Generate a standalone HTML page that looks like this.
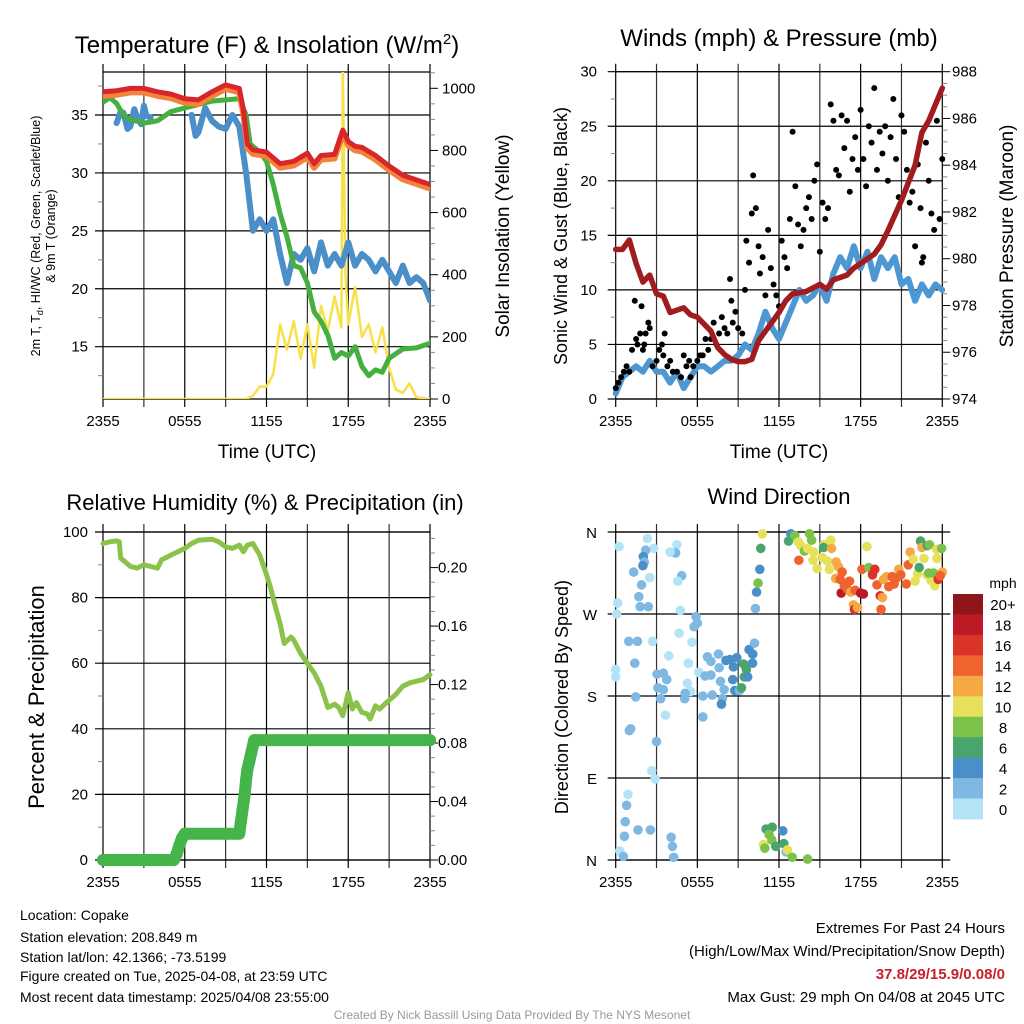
<!DOCTYPE html>
<html><head><meta charset="utf-8"><style>
html,body{margin:0;padding:0;background:#fff}
svg{display:block;font-family:"Liberation Sans",sans-serif}
</style></head><body>
<svg id="c" width="1024" height="1024" viewBox="0 0 1024 1024" xmlns="http://www.w3.org/2000/svg">
<g id="g"></g>
<g font-size="14" fill="#000">
<text x="20" y="920">Location: Copake</text>
<text x="20" y="942">Station elevation: 208.849 m</text>
<text x="20" y="962">Station lat/lon: 42.1366; -73.5199</text>
<text x="20" y="981">Figure created on Tue, 2025-04-08, at 23:59 UTC</text>
<text x="20" y="1002">Most recent data timestamp: 2025/04/08 23:55:00</text>
</g>
<g font-size="15" text-anchor="end">
<text x="1005" y="933">Extremes For Past 24 Hours</text>
<text x="1005" y="956">(High/Low/Max Wind/Precipitation/Snow Depth)</text>
<text x="1005" y="979" fill="#c8202a" font-weight="bold">37.8/29/15.9/0.08/0</text>
<text x="1005" y="1002">Max Gust: 29 mph On 04/08 at 2045 UTC</text>
</g>
<text x="512" y="1019" font-size="12" fill="#999" text-anchor="middle">Created By Nick Bassill Using Data Provided By The NYS Mesonet</text>
</svg>
<script>
// ---------- data (time in hours after 2355 UTC) ----------
const xTickLabels = ["2355","0555","1155","1755","2355"];
const tempT = [0,1,2,3,4,5,6,7,8,9,10,10.3,10.6,11,12,13,14,15,15.5,16,17,17.6,18,18.5,19,20,21,22,23,24];
const tempV = [37,37.1,37.3,37.3,37,36.8,36.4,36.3,37,37.6,37.3,35.5,32.5,32,31.8,30.8,31,31.7,30.8,31.5,31.6,33.7,32.7,32.3,32.2,31.5,30.6,29.8,29.4,29];
const dewT = [0,0.5,1,1.5,2,3,4,5,6,7,8,9,10,10.5,10.8,11.5,12,12.5,13,13.5,14,14.5,15,15.5,16,16.5,17,17.5,18,18.5,19,19.5,20,20.5,21,22,23,24];
const dewV = [36.1,36.5,36,35,34.6,34.3,34.5,35.3,35.6,35.9,36.2,36.3,36.4,35,32.5,31.8,31,29,26.5,24.5,22,21.8,20.5,18,17.2,16,14,14.5,14.2,15,13.3,12.5,13,12.8,14,14.8,14.9,15.3];
const wcT1 = [1,1.3,1.5,1.8,2,2.3,2.5,2.8,3,3.2,3.5];
const wcV1 = [34.3,35.3,35.2,33.8,34,35.5,34.8,34.2,35.8,34.9,34.8];
const wcT2 = [6.5,6.8,7,7.5,8,8.5,9,9.5,10,10.5,10.8,11,11.5,12,12.5,13,13.5,14,14.5,15,15.5,16,16.5,17,17.5,18,18.5,19,19.5,20,20.5,21,21.5,22,22.5,23,23.5,24];
const wcV2 = [35,33.2,33.5,35.6,34.5,34,33.8,35,34,30,27,25,26,25,26,23,20.5,23,22.5,23.5,21.5,24,22,23,22,24,22,23,22.5,21.5,22.5,21.5,20.5,22,20.5,21,20.5,19];
const solT = [0,10.5,11,11.5,12,12.5,13,13.5,14,14.5,15,15.5,16,16.5,17,17.5,17.6,17.8,18,18.5,19,19.5,20,20.5,21,21.5,22,22.5,23,24];
const solV = [0,0,10,40,40,80,240,160,250,130,240,100,300,220,330,230,1060,400,240,360,200,240,150,230,100,30,20,50,5,0];

const windT = [0,0.5,1,1.5,2,2.5,3,3.5,4,4.5,5,5.5,6,6.5,7,7.5,8,8.5,9,9.5,10,10.5,11,11.5,12,12.5,13,13.5,14,14.5,15,15.5,16,16.5,17,17.5,18,18.5,19,19.5,20,20.5,21,21.5,22,22.5,23,23.5,24];
const windV = [0.5,2,2.5,3,2.5,3.5,2.5,2.5,1.5,2.5,1,2,3,3,2.5,3,3.5,3.5,4,5,4.5,6,8,6.5,5.5,7,8.5,10,9,9.5,10.5,9,11.5,13,12,14,12,13.5,11,13,12,13,10.5,11,9,10.5,9.5,10.5,10];
const presT = [0,0.5,1,1.5,2,2.5,3,3.5,4,5,5.5,6,7,7.5,8,8.5,9,9.5,10,10.5,11,11.5,12,12.5,13,14,15,15.5,16,17,17.5,18,19,19.5,20,21,22,22.5,23,24];
const presV = [980.4,980.4,980.8,979.8,979,979.3,978.5,978.4,977.7,977.9,977.6,977.5,976.9,976.2,975.9,975.7,975.6,975.6,975.7,976.5,976.9,977.3,977.7,978.2,978.5,978.6,978.9,978.7,979.1,979.3,979.6,979.8,980.2,980.6,981.2,982.5,984,985.4,985.9,987.3];
const gustT = [0,0.2,0.4,0.6,0.8,1,1.2,1.4,1.5,1.6,1.8,1.9,2,2.1,2.2,2.4,2.5,2.7,3,3.2,3.4,3.5,3.6,3.8,4,4.2,4.5,4.8,5,5.2,5.4,5.5,5.7,6,6.2,6.4,6.6,6.8,7,7.2,7.4,7.6,7.8,8,8.2,8.4,8.5,8.6,8.8,9,9.3,9.5,9.6,9.8,10,10.1,10.3,10.5,10.6,10.8,11,11.2,11.4,11.6,11.8,12,12.2,12.4,12.6,12.8,13,13.2,13.4,13.6,13.8,14,14.2,14.4,14.6,14.8,15,15.2,15.4,15.6,15.8,16,16.2,16.4,16.6,16.8,17,17.2,17.4,17.6,17.8,18,18.2,18.4,18.6,18.8,19,19.2,19.4,19.6,19.8,20,20.2,20.4,20.6,20.8,21,21.2,21.4,21.6,21.8,22,22.2,22.4,22.5,22.6,22.8,23,23.2,23.4,23.6,23.8,24];
const gustV = [1,1.5,2,2.5,3,2.5,4.5,9,5.5,5,6,8.5,4.5,5,6,7,6.5,3,3.5,4.5,5,4,6,3,3.5,2.5,2.5,2,4,3,3.5,2,3,3.5,4,4,5.5,4.5,5.5,7,5,6,7.5,6.5,6,11,9,7,8,6.5,6,10,14.5,12.5,17,20.5,17.5,14,11.5,13,9.5,15.5,12,10.5,9.5,8.5,14.5,13,12,16.5,24.5,19.5,16,14,15.5,17.5,18.5,16.5,20,21.5,13.5,18,16.5,17.5,27,25.5,21,20.5,26,23,25.5,19,22,24,21,26.5,22,19.5,25,23.5,28.5,21,24.5,22.5,25,20,24,27.5,22,18.5,26,24.5,21,18,19,14,21.5,17.5,12.5,13,23.5,20,17,15.5,25.5,16.5,22];

const rhT = [0,0.5,1,1.2,1.3,1.6,2,2.5,3,3.5,4,4.3,5,6,6.5,7,8,8.5,9,9.5,10,10.3,10.6,11,11.5,12,12.3,12.6,13,13.3,13.8,14,14.5,15,15.5,16,16.5,17,17.3,17.6,18,18.3,18.6,19,19.4,19.6,20,20.3,20.8,21.5,22,22.5,23,23.5,24];
const rhV = [96.5,97,97.3,97,92,91,89.5,89,90,89.5,89,91.5,93,95,96.5,97.5,97.8,97,95.5,95,96,94,96,96.5,93,87,83,78,72,66,68,67,63,60,57,53,46.5,47.5,46.5,44,51,46,48,45,44.5,43,47,46,48,50.5,53,54,54.5,55,56.5];
const precT = [0,5.2,5.4,5.6,5.8,6,10,10.1,10.25,10.4,10.5,10.6,10.75,10.9,11.1,24];
const precV = [0,0,0.004,0.01,0.015,0.018,0.018,0.025,0.035,0.045,0.055,0.062,0.068,0.074,0.082,0.082];

const dirT = [0.25,0.15,0.07,0.96,1.6,1.4,0,0,1.47,1.1,1.0,3.0,2.65,2.9,0.9,0.8,0.7,0.64,1.64,2.55,0.3,0.56,2.33,2.8,2.2,2.03,2.1,2.0,1.32,2.5,1.9,1.7,1.8,2.4,2.7,3.04,3.5,3.75,3.1,3.5,3.3,3.65,3.9,4.07,4.17,4.26,4.5,4.4,4.0,4.85,4.56,4.75,4.66,5.6,5.9,6.0,5.76,5.34,5.27,5.5,5.1,5.07,6.1,6.4,6.4,7.1,6.74,7.0,7.55,7.6,7.0,6.57,7.7,7.97,7.84,7.77,8.1,8.4,8.65,8.9,8.6,8.75,9.1,9.4,9.6,9.45,9.24,9.7,9.8,10.07,10.05,10.2,10.27,10.35,10.46,10.59,10.66,10.78,11.05,11.5,11.27,10.86,10.96,11.47,11.76,12.28,12.35,12.52,12.62,12.97,14.1,12.87,12.7,13.16,13.43,13.6,13.46,13.87,14.24,14.4,14.1,14.55,14.5,14.8,15.17,15.3,15.27,15.8,15.86,15.56,15.7,16.2,16.37,16.64,16.17,16.5,16.57,16.8,17.18,17.03,17.27,17.47,17.55,17.77,17.6,18.0,18.2,18.1,18.46,18.6,18.87,19.04,19.2,19.44,19.6,19.68,19.5,19.9,20.07,20.32,20.46,20.6,20.8,20.95,21.35,21.5,21.64,21.86,22.0,22.18,22.3,22.4,22.5,22.65,22.9,23.06,22.87,23.16,23.36,23.45,23.6,23.6,23.7,23.95,24.0,23.85,23.0];
const dirV = [344,282,270,240,240,216,209,201,179,144,142,130,98,89,72,60,42,26,33,33,10,4,353,342,340,333,327,323,316,310,302,289,278,278,240,204,205,198,189,187,177,159,224,25,15,3,346,337,338,312,306,274,249,239,267,260,256,216,194,185,183,177,206,180,157,181,223,218,226,211,203,202,196,187,177,171,219,220,212,222,198,186,186,215,209,201,189,201,231,226,216,238,276,294,304,319,342,358,34,36,28,17,13,22,15,32,18,9,11,3,1,358,350,356,349,345,329,339,358,351,342,338,329,320,332,346,343,351,342,328,319,327,322,316,309,308,293,301,306,297,294,280,275,277,296,293,292,319,344,321,313,319,302,290,288,308,275,311,300,311,303,309,319,313,303,324,338,330,306,314,321,350,343,331,345,346,313,307,315,301,331,341,308,342,316,312,315];
const dirS = [1,1,0,2,2,2,1,1,2,2,2,3,1,0,0,2,2,2,2,2,0,3,0,0,3,4,3,4,2,0,2,2,2,2,0,2,2,2,2,2,2,0,0,2,2,2,0,3,0,2,0,0,0,0,2,2,2,0,0,0,2,2,0,2,2,2,2,2,2,2,3,2,2,2,2,4,4,4,4,4,4,4,3,6,6,6,6,4,4,4,4,3,3,4,8,4,6,10,6,6,8,10,8,8,6,4,6,3,10,8,8,4,6,8,10,10,14,8,8,8,10,10,10,10,10,10,6,10,12,10,10,12,12,14,12,14,18,14,14,14,12,12,16,12,14,18,18,14,10,8,16,16,14,16,12,12,14,12,14,14,14,14,12,14,14,14,12,10,10,10,6,6,12,10,6,8,10,10,8,10,10,10,16,8,12,14,8];
const cbLabels = ["20+","18","16","14","12","10","8","6","4","2","0"];
const cbColors = ["#8e1518","#bb1c24","#db3328","#f0622e","#f6a845","#e6e05a","#7cc24a","#4aa56d","#4a8fc8","#7fb9e3","#b3e3f7"];

// ---------- drawing helpers ----------
const NS="http://www.w3.org/2000/svg";
const G=document.getElementById('g');
function el(tag,attrs,parent){const e=document.createElementNS(NS,tag);for(const k in attrs)e.setAttribute(k,attrs[k]);(parent||G).appendChild(e);return e;}
function txt(x,y,s,size,anchor,parent,rot){const e=el('text',{x:x,y:y,'font-size':size,'text-anchor':anchor||'middle'},parent);if(rot)e.setAttribute('transform','rotate(-90 '+x+' '+y+')');e.textContent=s;return e;}
function line(x1,y1,x2,y2,parent,w,c){return el('line',{x1:x1,y1:y1,x2:x2,y2:y2,stroke:c||'#000','stroke-width':w||1},parent);}
function pathOf(T,V,fx,fy){let d='';for(let i=0;i<T.length;i++){d+=(i?'L':'M')+fx(T[i]).toFixed(1)+' '+fy(V[i]).toFixed(1);}return d;}

function frame(p,parent){
  for(let i=0;i<=8;i++){const x=p.x0+i*(p.x1-p.x0)/8;line(x,p.top-8,x,p.bot+8,parent,1.2,i%2?'#333':'#000');}
  line(p.x0,p.top,p.x1,p.top,parent,1.2);line(p.x0,p.bot,p.x1,p.bot,parent,1.2);
  xTickLabels.forEach((s,i)=>{const x=p.x0+i*(p.x1-p.x0)/4;const t=txt(x,p.bot+27,s,15,'middle',parent);
    });
}

// ---------- Panel 1 ----------
(function(){
const p={x0:103,x1:430,top:72,bot:399};
const g=el('g',{});
const xs=t=>p.x0+t/24*(p.x1-p.x0);
const yT=v=>346.7-(v-15)*(231.7/20);
const yS=w=>399-w*0.3107;
frame(p,g);
[15,20,25,30,35].forEach(v=>{line(p.x0-8,yT(v),p.x1,yT(v),g,1.2);const t=txt(88,yT(v)+5,String(v),15,'end',g);});
for(let v=12.5;v<39;v+=2.5){if(v%5)line(p.x0-5,yT(v),p.x0,yT(v),g,1,'#888');}
for(let w=0;w<=1050;w+=50){line(p.x1,yS(w),p.x1+(w%200?5:8),yS(w),g,1,w%200?'#888':'#000');}
[0,200,400,600,800,1000].forEach(w=>{const t=txt(442,yS(w)+5,String(w),15,'start',g);});
const clip=el('clipPath',{id:'cp1'},g);el('rect',{x:p.x0,y:p.top,width:p.x1-p.x0,height:p.bot-p.top},clip);
const s=el('g',{'clip-path':'url(#cp1)',fill:'none','stroke-linejoin':'round','stroke-linecap':'round'},g);
let e;
e=el('path',{d:pathOf(solT,solV,xs,yS),stroke:'#f7e14a','stroke-width':2.5},s);
e=el('path',{d:pathOf(wcT1,wcV1,xs,yT),stroke:'#4a8fc8','stroke-width':6},s);
e=el('path',{d:pathOf(wcT2,wcV2,xs,yT),stroke:'#4a8fc8','stroke-width':6},s);
e=el('path',{d:pathOf(dewT,dewV,xs,yT),stroke:'#45b03f','stroke-width':5},s);
e=el('path',{d:pathOf(tempT,tempV.map(v=>v-0.35),xs,yT),stroke:'#f5823a','stroke-width':6},s);
e=el('path',{d:pathOf(tempT,tempV,xs,yT),stroke:'#d8262a','stroke-width':5},s);
e=txt(267,53,'',24,'middle',g);e.innerHTML='Temperature (F) &amp; Insolation (W/m<tspan dy="-9" font-size="15">2</tspan><tspan dy="9">)</tspan>';
e=txt(267,458,'Time (UTC)',19,'middle',g);
e=txt(40,236,'',12.5,'middle',g,true);e.innerHTML='2m T, T<tspan dy="3" font-size="9">d</tspan><tspan dy="-3">, HI/WC (Red, Green, Scarlet/Blue)</tspan>';
e=txt(55,236,'& 9m T (Orange)',12.5,'middle',g,true);
e=txt(509,236,'Solar Insolation (Yellow)',19,'middle',g,true);
})();

// ---------- Panel 2 ----------
(function(){
const p={x0:615.7,x1:942.3,top:71.7,bot:399};
const g=el('g',{});
const xs=t=>p.x0+t/24*(p.x1-p.x0);
const yW=v=>399-v*(327.3/30);
const yP=v=>399-(v-974)*(327.3/14);
frame(p,g);
[0,5,10,15,20,25,30].forEach(v=>{line(p.x0-8,yW(v),p.x1,yW(v),g,1.2);const t=txt(597,yW(v)+5,String(v),15,'end',g);});
for(let v=2.5;v<30;v+=5)line(p.x0-5,yW(v),p.x0,yW(v),g,1,'#888');
for(let v=974;v<=988;v+=0.5){line(p.x1,yP(v),p.x1+(v%2?5:8),yP(v),g,1,v%2?'#888':'#000');}
[974,976,978,980,982,984,986,988].forEach(v=>{const t=txt(952,yP(v)+5,String(v),15,'start',g);});
const clip=el('clipPath',{id:'cp2'},g);el('rect',{x:p.x0-3,y:p.top-3,width:p.x1-p.x0+6,height:p.bot-p.top+6},clip);
const s=el('g',{'clip-path':'url(#cp2)',fill:'none','stroke-linejoin':'round','stroke-linecap':'round'},g);
let e=el('path',{d:pathOf(windT,windV,xs,yW),stroke:'#4d97d3','stroke-width':6},s);
for(let i=0;i<gustT.length;i++){const c=el('circle',{cx:xs(gustT[i]),cy:yW(gustV[i]),r:3,fill:'#000'},s);

}
e=el('path',{d:pathOf(presT,presV,xs,yP),stroke:'#a01c1e','stroke-width':5.5},s);
e=txt(779,46,'Winds (mph) & Pressure (mb)',24,'middle',g);
e=txt(779,458,'Time (UTC)',19,'middle',g);
e=txt(567,236,'Sonic Wind & Gust (Blue, Black)',18,'middle',g,true);
e=txt(1013,236,'Station Pressure (Maroon)',19,'middle',g,true);
})();

// ---------- Panel 3 ----------
(function(){
const p={x0:103,x1:430,top:532,bot:860};
const g=el('g',{});
const xs=t=>p.x0+t/24*(p.x1-p.x0);
const yR=v=>860-v*3.28;
const yI=v=>860-v*1462;
frame(p,g);
[0,20,40,60,80,100].forEach(v=>{line(p.x0-8,yR(v),p.x1,yR(v),g,1.2);const t=txt(88,yR(v)+5,String(v),15,'end',g);});
for(let v=10;v<100;v+=20)line(p.x0-5,yR(v),p.x0,yR(v),g,1,'#888');
for(let k=0;k<=22;k++){const v=k*0.01;line(p.x1,yI(v),p.x1+(k%4?5:8),yI(v),g,1,k%4?'#888':'#000');}
["0.00","0.04","0.08","0.12","0.16","0.20"].forEach(s=>{const t=txt(438,yI(parseFloat(s))+5,s,15,'start',g);});
const s=el('g',{fill:'none','stroke-linejoin':'round','stroke-linecap':'round'},g);
let e=el('path',{d:pathOf(rhT,rhV,xs,yR),stroke:'#8bc34a','stroke-width':5},s);
e=el('path',{d:pathOf(precT,precV,xs,yI),stroke:'#45b549','stroke-width':12},s);
for(let i=0;i<precT.length;i++){const c=el('circle',{cx:xs(precT[i]),cy:yI(precV[i]),r:6,fill:'#45b549'},s);

}
e=txt(265,510,'Relative Humidity (%) & Precipitation (in)',22,'middle',g);
e=txt(44,697,'Percent & Precipitation',22,'middle',g,true);
})();

// ---------- Panel 4 ----------
(function(){
const p={x0:615.7,x1:942.3,top:532,bot:860};
const g=el('g',{});
const xs=t=>p.x0+t/24*(p.x1-p.x0);
const yD=v=>860-v*(328/360);
frame(p,g);
[[360,'N'],[270,'W'],[180,'S'],[90,'E'],[0,'N']].forEach(a=>{line(p.x0-8,yD(a[0]),p.x1+8,yD(a[0]),g,1.2);const t=txt(597,yD(a[0])+6,a[1],15,'end',g);});
const s=el('g',{},g);
for(let i=0;i<dirT.length;i++){const b=Math.min(10,Math.floor(dirS[i]/2));
const c=el('circle',{cx:xs(dirT[i]),cy:yD(dirV[i]),r:4.8,fill:cbColors[10-b]},s);

}
const cb=el('g',{},g);
const h=(819-594)/11;
cbColors.forEach((c,i)=>{const r=el('rect',{x:953,y:594+i*h,width:30,height:h+0.5,fill:c},cb);
const t=txt(1003,594+i*h+h/2+6,cbLabels[i],15,'middle',cb);});
let e=txt(1003,588,'mph',14,'middle',cb);
e=txt(779,504,'Wind Direction',22,'middle',g);
e=txt(568,697,'Direction (Colored By Speed)',18,'middle',g,true);
})();
</script>
</body></html>
